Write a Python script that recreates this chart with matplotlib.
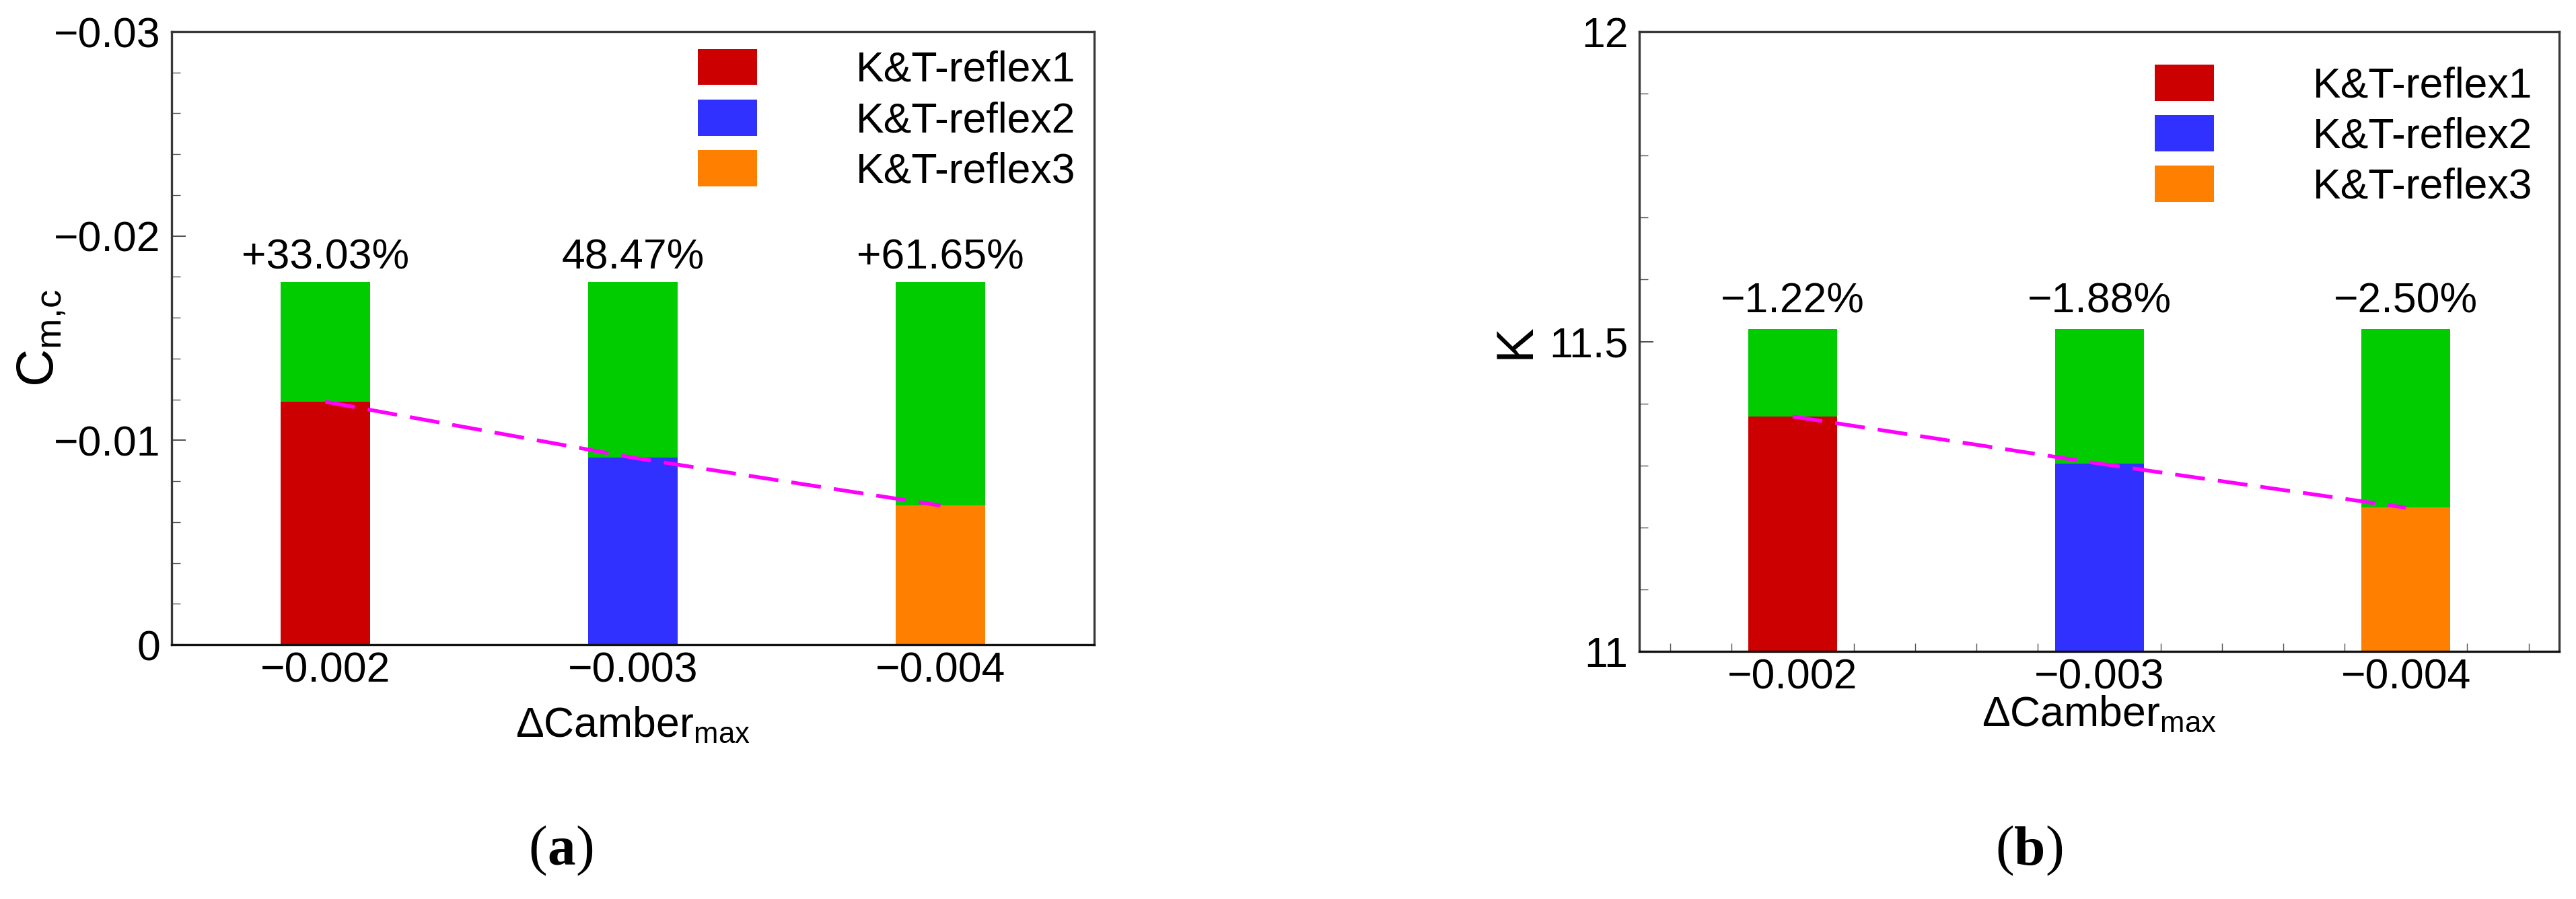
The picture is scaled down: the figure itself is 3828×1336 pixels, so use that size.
import matplotlib
matplotlib.use("Agg")
import matplotlib.pyplot as plt
from matplotlib.patches import Patch
from matplotlib.ticker import MultipleLocator
import numpy as np

# data
camber_labels = ['−0.002', '−0.003', '−0.004']
series_names = ['K&T-reflex1', 'K&T-reflex2', 'K&T-reflex3']

cm_base = [-0.01775, -0.01775, -0.01775]      # green bars (reference)
cm_reflex = [-0.01189, -0.00915, -0.00681]    # red / blue / orange
cm_pct = ['+33.03%', '48.47%', '+61.65%']
cm_yticks = [0, -0.01, -0.02, -0.03]
cm_yticklabels = ['0', '−0.01', '−0.02', '−0.03']

k_base = [11.52, 11.52, 11.52]
k_reflex = [11.379, 11.303, 11.232]
k_pct = ['−1.22%', '−1.88%', '−2.50%']
k_yticks = [11, 11.5, 12]
k_yticklabels = ['11', '11.5', '12']

green = '#00cc00'
bar_colors = ['#cc0000', '#3030ff', '#ff8000']
line_color = '#ff00ff'
spine_color = '#383838'

plt.rcParams['font.family'] = 'Liberation Sans'
plt.rcParams['mathtext.fontset'] = 'custom'
plt.rcParams['mathtext.rm'] = 'Liberation Sans'
plt.rcParams['mathtext.it'] = 'Liberation Sans:italic'
plt.rcParams['mathtext.bf'] = 'Liberation Sans:bold'

FS = 45
x = np.arange(len(camber_labels)) + 0.5
width = 0.29

fig = plt.figure(figsize=(38.28, 13.36), dpi=100)
ax_a = fig.add_axes([0.0666, 0.2829, 0.3582, 0.6819])
ax_b = fig.add_axes([0.6364, 0.2754, 0.3571, 0.6894])


def draw_panel(ax, base, reflex, pct, txt_off):
    ax.bar(x, base, width, color=green, zorder=1)
    ax.bar(x, reflex, width, color=bar_colors, zorder=2)
    ax.plot(x, reflex, color=line_color, lw=4.0, dashes=(8, 3.5), zorder=3)
    for xi, b, s in zip(x, base, pct):
        ax.annotate(s, (xi, b), xytext=(0, txt_off), textcoords='offset points',
                    ha='center', va='baseline', fontsize=FS)
    ax.set_xlim(0, 3)
    ax.set_xticks(x)
    ax.set_xticklabels(camber_labels)
    for sp in ax.spines.values():
        sp.set_linewidth(2.4)
        sp.set_color(spine_color)
    ax.spines['bottom'].set_color('#111111')
    ax.tick_params(axis='both', which='both', direction='in', labelsize=FS,
                   color='#555555', top=False, right=False)
    ax.tick_params(axis='y', which='major', length=15, width=1.5, pad=12)
    ax.tick_params(axis='y', which='minor', length=9, width=1.0)
    ax.tick_params(axis='x', which='major', length=15, width=1.5, pad=7)
    ax.tick_params(axis='x', which='minor', length=9, width=1.0)
    ax.set_xlabel('ΔCamber$_{\\mathrm{max}}$', fontsize=FS)
    handles = [Patch(facecolor=c, edgecolor='none', label=n)
               for c, n in zip(bar_colors, series_names)]
    return handles


def add_legend(ax, handles, anchor):
    ax.legend(handles=handles, loc='upper left', bbox_to_anchor=anchor,
              frameon=False, fontsize=FS, handlelength=1.42, handleheight=0.95,
              handletextpad=2.35, labelspacing=0.22, borderpad=0, borderaxespad=0)


# (a) pitching moment
h = draw_panel(ax_a, cm_base, cm_reflex, cm_pct, 14)
ax_a.set_ylim(0, -0.03)
ax_a.set_yticks(cm_yticks)
ax_a.set_yticklabels(cm_yticklabels)
ax_a.yaxis.set_minor_locator(MultipleLocator(0.002))
ax_a.tick_params(axis='x', which='both', length=0)
ax_a.set_ylabel(r'C$_{\mathrm{m{,}c}}$', fontsize=56)
ax_a.yaxis.set_label_coords(-0.112, 0.5)
ax_a.xaxis.set_label_coords(0.5, -0.1)
add_legend(ax_a, h, (0.570, 0.972))

# (b) lift-to-drag ratio
h = draw_panel(ax_b, k_base, k_reflex, k_pct, 18)
ax_b.set_ylim(11, 12)
ax_b.set_yticks(k_yticks)
ax_b.set_yticklabels(k_yticklabels)
ax_b.yaxis.set_minor_locator(MultipleLocator(0.1))
ax_b.xaxis.set_minor_locator(MultipleLocator(0.2, offset=0.1))
ax_b.set_ylabel('K', fontsize=56)
ax_b.yaxis.set_label_coords(-0.108, 0.5)
ax_b.xaxis.set_label_coords(0.5, -0.07)
add_legend(ax_b, h, (0.560, 0.947))

# sub-figure captions with bold letter
for cx, letter in [(0.2179, 'a'), (0.788, 'b')]:
    t = fig.text(cx, 0.025, letter, fontsize=60, fontweight='bold',
                 family='Liberation Serif', ha='center', va='bottom')
    ax_a.annotate('(', xy=(0, 0), xycoords=t, ha='right', va='bottom',
                  fontsize=60, family='Liberation Serif', annotation_clip=False)
    ax_a.annotate(')', xy=(1, 0), xycoords=t, ha='left', va='bottom',
                  fontsize=60, family='Liberation Serif', annotation_clip=False)

fig.savefig('out.png', dpi=100)
